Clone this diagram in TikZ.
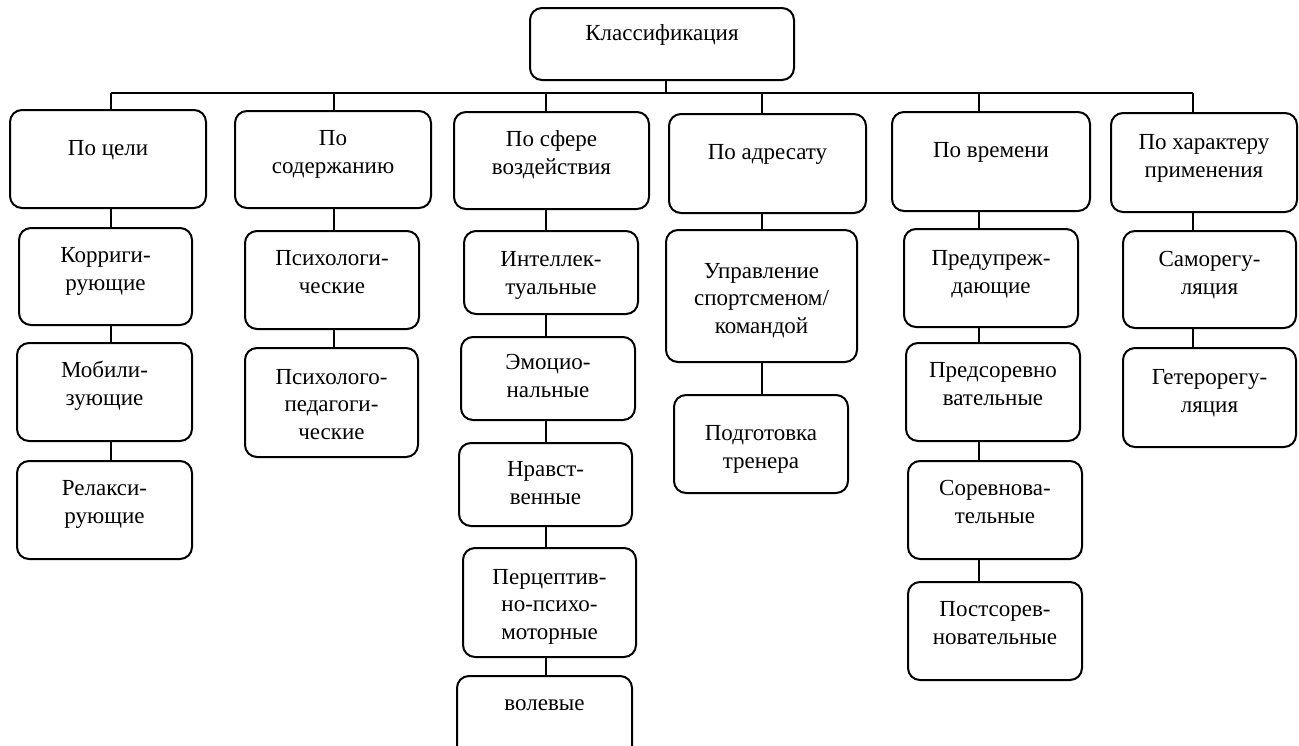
\documentclass[tikz,border=0pt]{standalone}
\usepackage{fontspec}
\setmainfont{Liberation Serif}
\tikzset{
  bx/.style={draw, line width=2pt, rounded corners=12pt, inner sep=0pt, outer sep=0pt, fill=white},
  txt/.style={inner sep=0pt, align=center, font=\fontsize{23}{27.5}\selectfont},
  ln/.style={line width=2pt}
}
\newcommand\bxn[7]{%
  \node[bx, minimum width={(#4-#2)*1pt}, minimum height={(#5-#3)*1pt}] (#1) at ({(#2+#4)/2},{(#3+#5)/2}) {};
  \node[txt] (#1t) at ({(#2+#4)/2},#6) {#7};}
\begin{document}
\begin{tikzpicture}[x=1pt,y=-1pt]
\useasboundingbox (0,0) rectangle (1299,745);
\clip (0,0) rectangle (1299,745);
% bus coordinates
\coordinate (tp) at (666,93);
\coordinate (c1) at (111,93);
\coordinate (c2) at (334,93);
\coordinate (c3) at (546,93);
\coordinate (c4) at (762,93);
\coordinate (c5) at (979,93);
\coordinate (c6) at (1193,93);
% boxes
\bxn{top}{530}{8}{794}{80}{35}{\strut Классификация}
% column 1
\bxn{a1}{10}{110}{206}{208}{150}{\strut По цели}
\bxn{a2}{19}{228}{192}{325}{271}{\strut Корриги-\\\strut рующие}
\bxn{a3}{17}{343}{192}{441}{386}{\strut Мобили-\\\strut зующие}
\bxn{a4}{17}{461}{192}{559}{504}{\strut Релакси-\\\strut рующие}
% column 2
\bxn{b1}{235}{111}{431}{208}{154}{\strut По\\\strut содержанию}
\bxn{b2}{245}{231}{419}{329}{274}{\strut Психологи-\\\strut ческие}
\bxn{b3}{245}{348}{418}{457}{406}{\strut Психолого-\\\strut педагоги-\\\strut ческие}
% column 3
\bxn{d1}{454}{112}{649}{209}{155}{\strut По сфере\\\strut воздействия}
\bxn{d2}{464}{231}{638}{314}{275}{\strut Интеллек-\\\strut туальные}
\bxn{d3}{461}{337}{635}{420}{378}{\strut Эмоцио-\\\strut нальные}
\bxn{d4}{459}{443}{632}{526}{485}{\strut Нравст-\\\strut венные}
\bxn{d5}{463}{548}{636}{657}{606}{\strut Перцептив-\\\strut но-психо-\\\strut моторные}
\bxn{d6}{457}{676}{632}{760}{705}{\strut волевые}
% column 4
\bxn{e1}{669}{114}{866}{213}{154}{\strut По адресату}
\bxn{e2}{666}{230}{857}{362}{300}{\strut Управление\\\strut спортсменом/\\\strut командой}
\bxn{e3}{674}{395}{848}{493}{449}{\strut Подготовка\\\strut тренера}
% column 5
\bxn{f1}{892}{112}{1090}{211}{152}{\strut По времени}
\bxn{f2}{904}{229}{1078}{327}{274}{\strut Предупреж-\\\strut дающие}
\bxn{f3}{906}{343}{1080}{441}{386}{\strut Предсоревно\\\strut вательные}
\bxn{f4}{908}{461}{1082}{559}{504}{\strut Соревнова-\\\strut тельные}
\bxn{f5}{908}{582}{1082}{680}{625}{\strut Постсорев-\\\strut новательные}
% column 6
\bxn{g1}{1111}{113}{1297}{212}{158}{\strut По характеру\\\strut применения}
\bxn{g2}{1123}{231}{1296}{328}{275}{\strut Саморегу-\\\strut ляция}
\bxn{g3}{1123}{348}{1296}{447}{393}{\strut Гетерорегу-\\\strut ляция}
% connectors
\draw[ln] (top.south -| tp) -- (tp);
\draw[ln] (c1) -- (c6);
\draw[ln] (c1) -- (a1.north -| c1);
\draw[ln] (c2) -- (b1.north -| c2);
\draw[ln] (c3) -- (d1.north -| c3);
\draw[ln] (c4) -- (e1.north -| c4);
\draw[ln] (c5) -- (f1.north -| c5);
\draw[ln] (c6) -- (g1.north -| c6);
\draw[ln] (a1.south -| c1) -- (a2.north -| c1);
\draw[ln] (a2.south -| c1) -- (a3.north -| c1);
\draw[ln] (a3.south -| c1) -- (a4.north -| c1);
\draw[ln] (b1.south -| c2) -- (b2.north -| c2);
\draw[ln] (b2.south -| c2) -- (b3.north -| c2);
\draw[ln] (d1.south -| c3) -- (d2.north -| c3);
\draw[ln] (d2.south -| c3) -- (d3.north -| c3);
\draw[ln] (d3.south -| c3) -- (d4.north -| c3);
\draw[ln] (d4.south -| c3) -- (d5.north -| c3);
\draw[ln] (d5.south -| c3) -- (d6.north -| c3);
\draw[ln] (e1.south -| c4) -- (e2.north -| c4);
\draw[ln] (e2.south -| c4) -- (e3.north -| c4);
\draw[ln] (f1.south -| c5) -- (f2.north -| c5);
\draw[ln] (f2.south -| c5) -- (f3.north -| c5);
\draw[ln] (f3.south -| c5) -- (f4.north -| c5);
\draw[ln] (f4.south -| c5) -- (f5.north -| c5);
\draw[ln] (g1.south -| c6) -- (g2.north -| c6);
\draw[ln] (g2.south -| c6) -- (g3.north -| c6);
\end{tikzpicture}
\end{document}
